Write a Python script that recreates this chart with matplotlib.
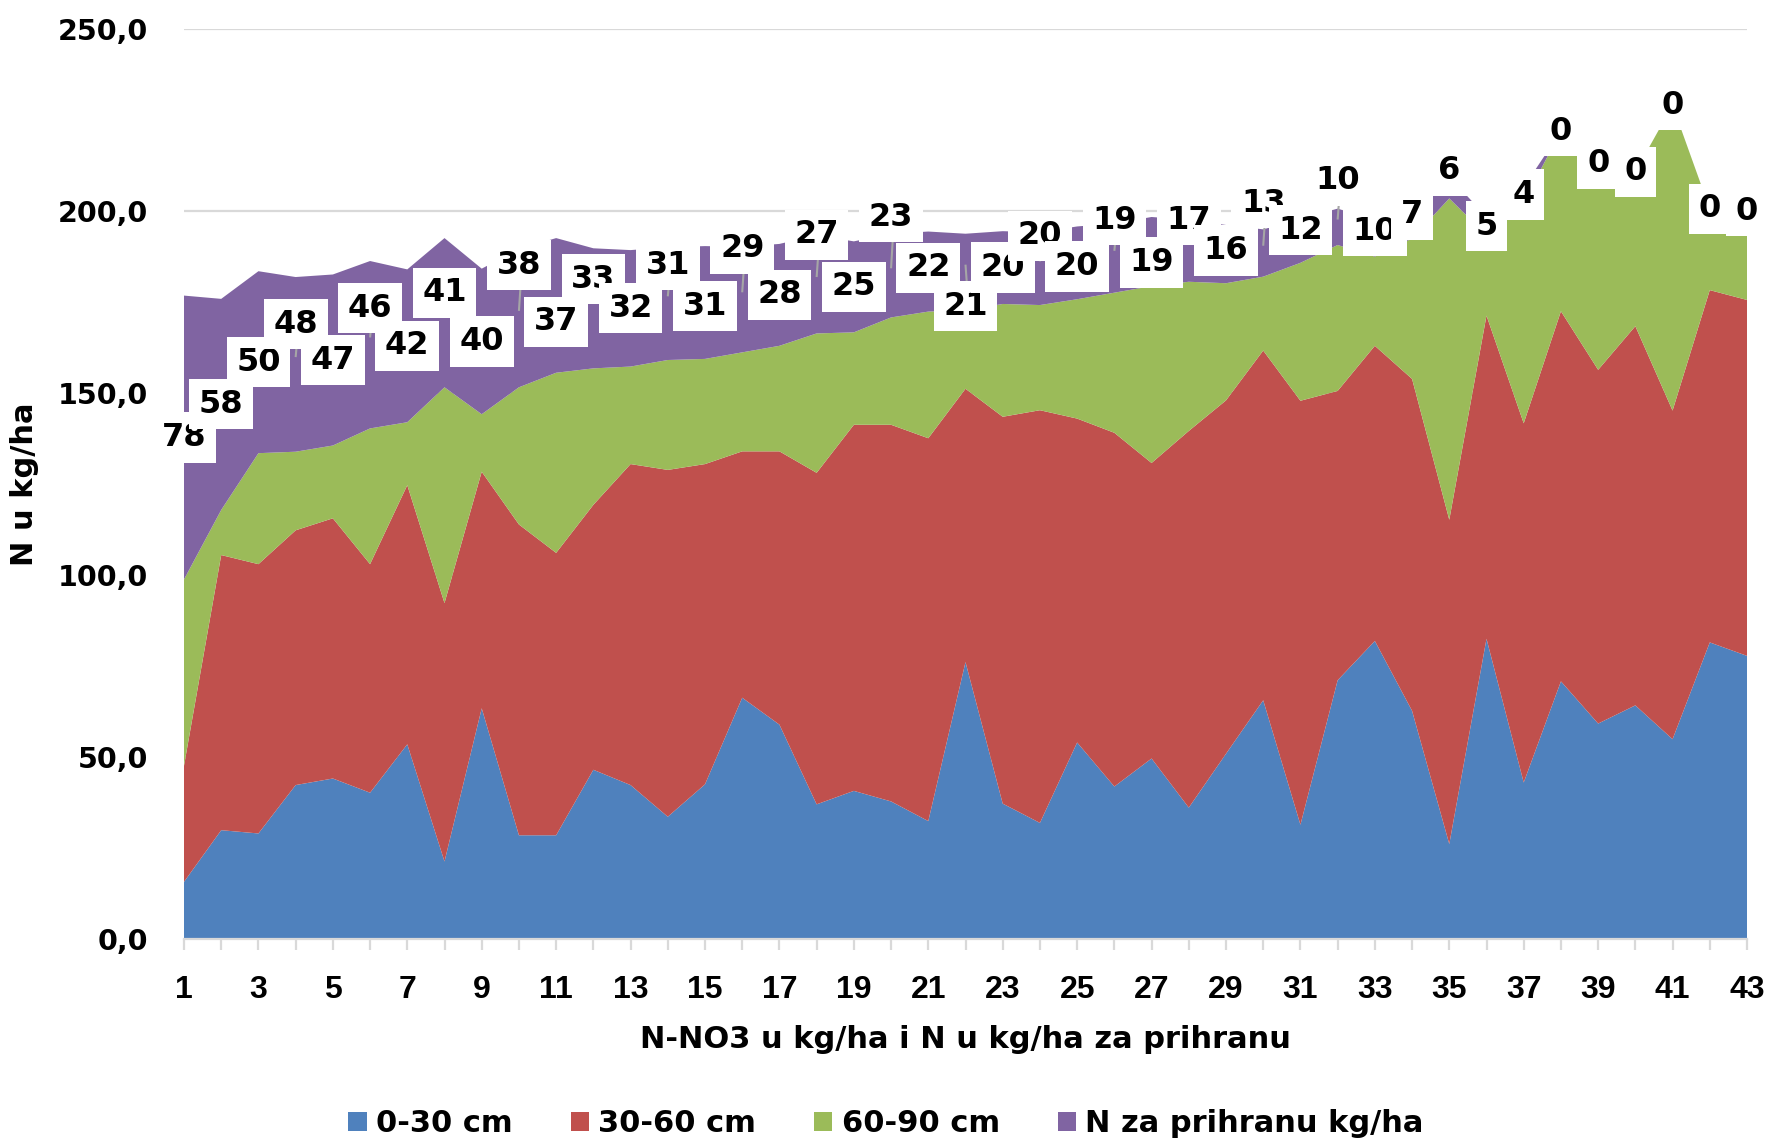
import matplotlib
matplotlib.use("Agg")
import matplotlib.pyplot as plt
from matplotlib.patches import Patch
from matplotlib.ticker import MultipleLocator, FuncFormatter

# ---------------- data ----------------
points = list(range(1, 44))

n_0_30 = [15.7, 29.9, 29.0, 42.3, 44.1, 40.2, 53.5, 21.3, 63.4, 28.5,
          28.5, 46.5, 42.3, 33.6, 42.5, 66.3, 58.9, 37.0, 40.7, 37.8,
          32.4, 76.1, 37.2, 31.9, 54.0, 41.9, 49.6, 36.1, 50.9, 65.6,
          31.4, 71.1, 81.9, 62.7, 26.1, 82.5, 43.0, 70.8, 59.2, 64.2,
          54.9, 81.5, 77.8]

n_30_60 = [31.9, 75.6, 74.0, 70.0, 71.5, 62.8, 71.2, 71.0, 65.0, 85.4,
           77.6, 72.8, 88.2, 95.3, 88.0, 67.7, 75.1, 91.1, 100.6, 103.5,
           105.2, 75.1, 106.3, 113.4, 89.0, 97.2, 81.2, 103.5, 97.1, 96.1,
           116.5, 79.5, 81.1, 91.2, 89.1, 88.8, 98.7, 101.7, 97.2, 104.2,
           90.3, 96.8, 97.8]

n_60_90 = [51.2, 12.4, 30.5, 21.6, 20.0, 37.3, 17.3, 59.3, 15.8, 37.7,
           49.5, 37.5, 26.8, 30.2, 28.9, 27.2, 29.0, 38.3, 25.4, 29.5,
           34.8, 21.6, 31.0, 28.9, 32.8, 38.5, 48.6, 41.0, 32.2, 20.3,
           37.9, 40.1, 24.5, 38.6, 88.3, 22.1, 60.9, 49.5, 56.6, 42.4,
           83.9, 22.3, 24.4]

n_prihrana = [78, 58, 50, 48, 47, 46, 42, 41, 40, 38,
              37, 33, 32, 31, 31, 29, 28, 27, 25, 23,
              22, 21, 20, 20, 20, 19, 19, 17, 16, 13,
              12, 10, 10, 7, 6, 5, 4, 0, 0, 0,
              0, 0, 0]

series_names = ["0-30 cm", "30-60 cm", "60-90 cm", "N za prihranu kg/ha"]
x_title = "N-NO3 u kg/ha i N u kg/ha za prihranu"
y_title = "N u kg/ha"

# ---------------- styling ----------------
colors = ["#4F81BD", "#C0504D", "#9BBB59", "#8064A2"]
# manual vertical nudges of the data labels (data units), as in the original
label_shift = [0, 0, 0, 11, 0, 10, 0, 5.5, 0, 14.5,
               -4.5, 8, 0, 10.5, -1, 14, 0, 13.6, 0, 16,
               1, -9.4, 0, 9, -1, 10.4, -3, 8.4, 1, 13.7,
               3, 12.7, 2, 3, 4.6, 0, 0, 0, 0, 0,
               0, 0, 0]

BOLD_WIDE = "DejaVu Sans"
BOLD_STD = "Liberation Sans"

fig = plt.figure(figsize=(17.72, 11.41), dpi=100)
ax = fig.add_axes([184 / 1772, 1 - 939 / 1141, (1747 - 184) / 1772, (939 - 29.2) / 1141])

ax.stackplot(points, n_0_30, n_30_60, n_60_90, n_prihrana,
             colors=colors, linewidth=0, zorder=2)

ax.set_xlim(1, 43)
ax.set_ylim(0, 250)
ax.yaxis.set_major_locator(MultipleLocator(50))
ax.yaxis.set_major_formatter(FuncFormatter(lambda v, p: f"{v:.1f}".replace(".", ",")))
ax.grid(axis="y", color="#D9D9D9", linewidth=1.6, zorder=0)
ax.set_axisbelow(True)

for s in ["top", "right", "left"]:
    ax.spines[s].set_visible(False)
ax.spines["bottom"].set_color("#D9D9D9")
ax.spines["bottom"].set_linewidth(1.6)
ax.spines["bottom"].set_zorder(3)

ax.set_xticks(points)
ax.set_xticklabels([str(p) if p % 2 == 1 else "" for p in points])
ax.tick_params(axis="x", direction="out", length=8, width=1.6, color="#D9D9D9", pad=18)
ax.tick_params(axis="y", length=0, pad=26)
for t in ax.get_xticklabels():
    t.set_fontfamily(BOLD_STD)
    t.set_fontweight("bold")
    t.set_fontsize(23)
for t in ax.get_yticklabels():
    t.set_fontfamily(BOLD_WIDE)
    t.set_fontweight("bold")
    t.set_fontsize(20.5)

# data labels for the "N za prihranu" series (with leader lines when moved)
for i, p in enumerate(points):
    base = n_0_30[i] + n_30_60[i] + n_60_90[i]
    ymid = base + n_prihrana[i] / 2
    yc = ymid + label_shift[i]
    if abs(label_shift[i]) >= 8:
        ax.plot([p, p + 0.08], [ymid + 2, yc], color="#A6A6A6", lw=1.5, zorder=4,
                solid_capstyle="butt")
    ax.text(p, yc, str(n_prihrana[i]), ha="center", va="center",
            fontsize=23, fontweight="bold", family=BOLD_WIDE, color="black",
            bbox=dict(boxstyle="square,pad=0.3", fc="white", ec="none"),
            zorder=5 + i, clip_on=False)

# axis titles
fig.text(965.5 / 1772, 1 - 1040 / 1141, x_title, ha="center", va="center",
         fontsize=22, fontweight="bold", family=BOLD_WIDE)
fig.text(25 / 1772, 1 - 484 / 1141, y_title, ha="center", va="center",
         rotation=90, fontsize=22, fontweight="bold", family=BOLD_WIDE)

# legend
handles = [Patch(facecolor=c, edgecolor="none") for c in colors]
leg = fig.legend(handles, series_names, loc="center", bbox_to_anchor=(0.5, 1 - 1124 / 1141),
                 ncol=4, frameon=False, handlelength=0.6, handleheight=0.6,
                 handletextpad=0.3, columnspacing=1.9,
                 prop={"family": BOLD_WIDE, "weight": "bold", "size": 22})

fig.savefig("out.png", dpi=100, facecolor="white")
